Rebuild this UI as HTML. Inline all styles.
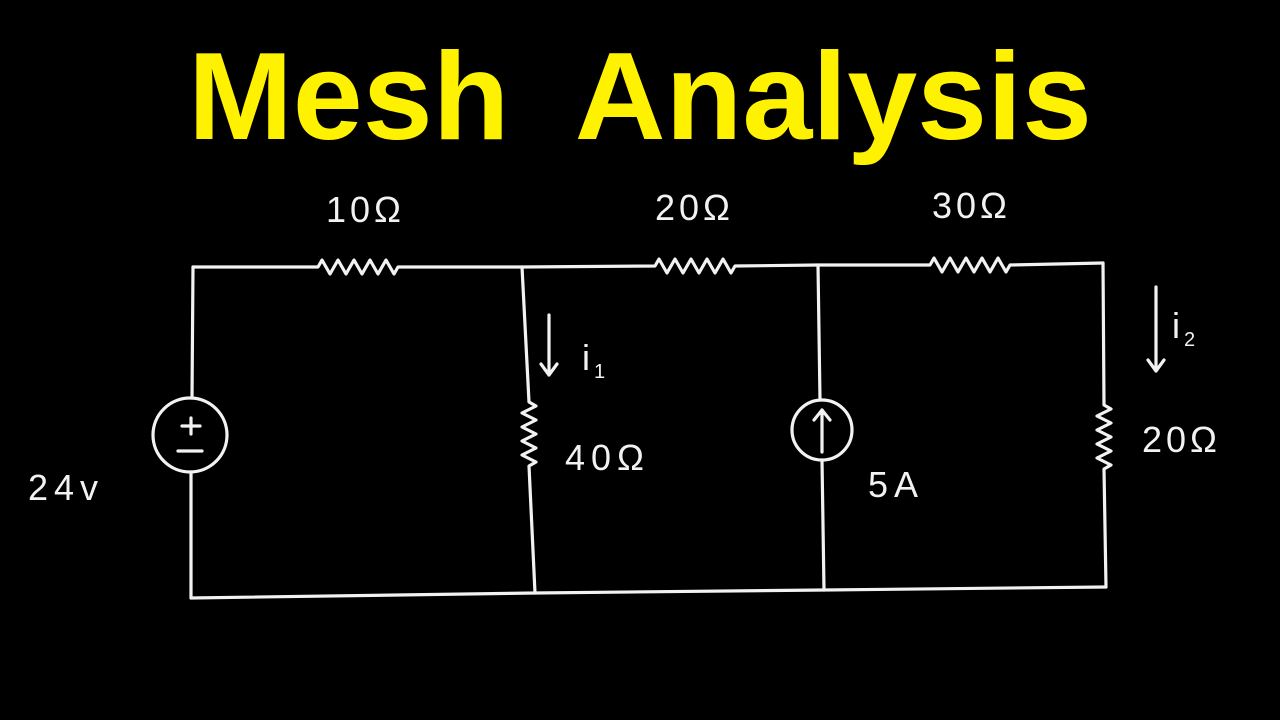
<!DOCTYPE html>
<html><head><meta charset="utf-8"><style>
html,body{margin:0;padding:0;background:#000;width:1280px;height:720px;overflow:hidden}
svg{display:block}
</style></head><body>
<svg width="1280" height="720" viewBox="0 0 1280 720" xmlns="http://www.w3.org/2000/svg">
<rect width="1280" height="720" fill="#000"/>
<text x="188" y="139" fill="#fff200" font-family="Liberation Sans, sans-serif" font-weight="bold" font-size="124" textLength="904" lengthAdjust="spacingAndGlyphs" xml:space="preserve">Mesh  Analysis</text>
<g stroke="#f2f2f2" stroke-width="3.2" fill="none" stroke-linecap="round" stroke-linejoin="round">
<path d="M193 267 L318 267 l4 -7 l8 14 l8 -14 l8 14 l8 -14 l8 14 l8 -14 l8 14 l8 -14 l8 14 l4 -7 L522 267 L655 266 l4 -7 l8 14 l8 -14 l8 14 l8 -14 l8 14 l8 -14 l8 14 l8 -14 l8 14 l4 -7 L818 265 L930 265 l4 -7 l8 14 l8 -14 l8 14 l8 -14 l8 14 l8 -14 l8 14 l8 -14 l8 14 l4 -7 L1103 263"/>
<path d="M193 267 L192 398"/>
<circle cx="190" cy="435" r="37"/>
<path d="M182 426 h18 M191 418 v16 M178 451 h24"/>
<path d="M191 472 L191 598"/>
<path d="M191 598 L535 593 L824 590 L1106 587"/>
<path d="M522 267 L529 402 l7 4 l-14 7 l14 7 l-14 7 l14 7 l-14 7 l14 7 l-14 7 l14 7 l-7 4 L535 593"/>
<path d="M549 315 V375 M541 364 l8 11 l8 -11"/>
<path d="M818 265 L820 400"/>
<circle cx="822" cy="430" r="30"/>
<path d="M822 452 V410 M814 420 l8 -10 l8 10"/>
<path d="M822 460 L824 590"/>
<path d="M1103 263 L1104 405 l7 4 l-14 7 l14 7 l-14 7 l14 7 l-14 7 l14 7 l-14 7 l14 7 l-7 4 L1106 587"/>
<path d="M1156 287 V371 M1148 360 l8 11 l8 -11"/>
</g>
<g fill="#f2f2f2" font-family="Liberation Sans, sans-serif" font-size="36">
<text x="326" y="222" letter-spacing="4">10Ω</text>
<text x="655" y="220" letter-spacing="4">20Ω</text>
<text x="932" y="218" letter-spacing="4">30Ω</text>
<text x="565" y="470" letter-spacing="6">40Ω</text>
<text x="1142" y="452" letter-spacing="4">20Ω</text>
<text x="28" y="500" letter-spacing="6">24v</text>
<text x="868" y="497" letter-spacing="6">5A</text>
<text x="582" y="370">i</text><text x="594" y="378" font-size="20">1</text>
<text x="1172" y="338">i</text><text x="1184" y="346" font-size="20">2</text>
</g>
</svg>
</body></html>
